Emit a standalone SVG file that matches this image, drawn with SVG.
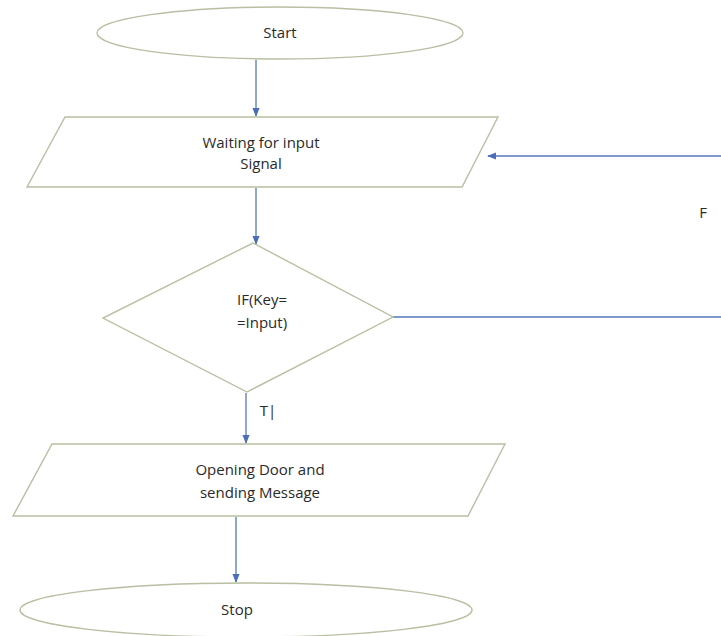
<svg xmlns="http://www.w3.org/2000/svg" width="721" height="636" viewBox="0 0 721 636">
<style>
.shape{fill:#ffffff;stroke:#b8bfa2;stroke-width:1.4}
.conn{stroke:#5577bb;stroke-width:1.3;fill:none}
.lbl{font-family:"Open Sans","Liberation Sans",sans-serif;font-size:15px;fill:#2a2a2a;text-anchor:middle}
</style>
<defs>
<marker id="arr" viewBox="0 0 10 10" refX="9" refY="5" markerWidth="9" markerHeight="9" markerUnits="userSpaceOnUse" orient="auto">
<path d="M0,1 L10,5 L0,9 Z" fill="#4a6fb8"/>
</marker>
</defs>
<rect width="721" height="636" fill="#ffffff"/>
<g id="connectors">
<line class="conn" x1="256" y1="60" x2="256" y2="116" marker-end="url(#arr)"/>
<line class="conn" x1="256" y1="188" x2="256" y2="244" marker-end="url(#arr)"/>
<line class="conn" x1="393" y1="317" x2="721" y2="317" stroke="#8c9cc0"/>
<line class="conn" x1="721" y1="156" x2="488" y2="156" marker-end="url(#arr)"/>
<line class="conn" x1="246" y1="393" x2="246" y2="443" marker-end="url(#arr)"/>
<line class="conn" x1="236" y1="517" x2="236" y2="582" marker-end="url(#arr)"/>
<text class="lbl" x="703" y="218">F</text>
<text class="lbl" x="268" y="416">T|</text>
</g>
<g id="start">
<ellipse class="shape" cx="280" cy="33" rx="183" ry="26"/>
<text class="lbl" x="280" y="38">Start</text>
</g>
<g id="waiting">
<polygon class="shape" points="65,117 498,117 462,187 27,187"/>
<text class="lbl" x="261" y="148">Waiting for input</text>
<text class="lbl" x="261" y="169">Signal</text>
</g>
<g id="decision">
<polygon class="shape" points="253,243 393,317 247,392 103,318"/>
<text class="lbl" x="262" y="305">IF(Key=</text>
<text class="lbl" x="262" y="328">=Input)</text>
</g>
<g id="opening">
<polygon class="shape" points="52,444 505,444 468,516 13,516"/>
<text class="lbl" x="260" y="475">Opening Door and</text>
<text class="lbl" x="260" y="498">sending Message</text>
</g>
<g id="stop">
<ellipse class="shape" cx="246" cy="610" rx="226" ry="27"/>
<text class="lbl" x="237" y="615">Stop</text>
</g>
</svg>
